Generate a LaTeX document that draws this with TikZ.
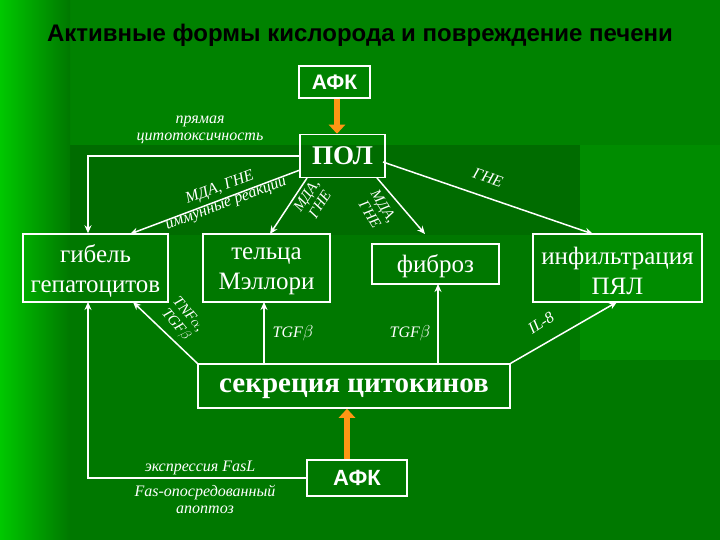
\documentclass[tikz,border=0pt]{standalone}
\usepackage{fontspec}
\setmainfont{Liberation Serif}
\newfontfamily\titlefont{Liberation Sans}
\usetikzlibrary{arrows.meta}
\definecolor{gA}{RGB}{0,200,0}
\definecolor{gB}{RGB}{0,120,0}
\definecolor{gC}{RGB}{0,130,0}
\definecolor{gD}{RGB}{0,108,0}
\definecolor{gE}{RGB}{0,140,0}
\definecolor{orA}{RGB}{255,150,20}
\begin{document}
\begin{tikzpicture}[x=1pt,y=-1pt,
  bx/.style={draw=white,line width=1.5pt,inner sep=0pt},
  bt/.style={text=white,align=center,inner sep=0pt,font=\fontsize{25}{30}\selectfont},
  ar/.style={draw=white,line width=1.5pt,-{Stealth[length=8pt,width=7pt]}},
  oar/.style={draw=orA,line width=6pt,-{Triangle[length=9pt,width=16pt]}},
  lab/.style={text=white,font=\itshape\fontsize{16}{17}\selectfont,align=center,inner sep=1pt},
  slab/.style={lab,font=\itshape\fontsize{15}{16}\selectfont}]
\useasboundingbox (0,0) rectangle (720,540);
\fill[gB] (0,0) rectangle (720,540);
\fill[gC] (0,0) rectangle (720,145);
\fill[gD] (70,145) rectangle (720,235);
\fill[gE] (580,145) rectangle (720,360);
\shade[left color=gA,right color=gB] (0,0) rectangle (70,540);
\node[font=\titlefont\bfseries\fontsize{24}{26}\selectfont] (title) at (360,35) {Активные формы кислорода и повреждение печени};
\node[bx,text=white,minimum width=71pt,minimum height=32pt,font=\titlefont\bfseries\fontsize{21}{22}\selectfont] (afk1) at (334.5,82) {АФК};
\node[bx,text=white,minimum width=85pt,minimum height=43pt,font=\bfseries\fontsize{27}{28}\selectfont] (pol) at (342.5,156) {ПОЛ};
\node[bx,minimum width=145pt,minimum height=68pt] (gib) at (95.5,268) {};
\node[bt] (gibt) at (95.5,271) {гибель\\гепатоцитов};
\node[bx,minimum width=127pt,minimum height=68pt] (tel) at (266.5,268) {};
\node[bt] (telt) at (266.5,271) {тельца\\Мэллори};
\node[bx,minimum width=127pt,minimum height=40pt] (fib) at (435.5,264) {};
\node[bt] (fibt) at (435.5,266) {фиброз};
\node[bx,minimum width=169pt,minimum height=68pt] (inf) at (617.5,268) {};
\node[bt] (inft) at (617.5,271) {инфильтрация\\ПЯЛ};
\node[bx,minimum width=312pt,minimum height=44pt] (sek) at (354,386) {};
\node[bt,font=\bfseries\fontsize{29}{30}\selectfont] (sekt) at (354,389) {секреция цитокинов};
\node[bx,text=white,minimum width=100pt,minimum height=36pt,font=\titlefont\bfseries\fontsize{22}{24}\selectfont] (afk2) at (357,478) {АФК};
\draw[oar] (afk1.south -| 337,0) -- (pol.north -| 337,0);
\draw[oar] (afk2.north -| 347,0) -- (sek.south -| 347,0);
\coordinate (c1) at (88,156);
\draw[ar] (pol.west |- 0,156) -- (c1) -- (gib.north -| 88,0);
\node[lab] (l1) at (200,130) {прямая\\цитотоксичность};
\draw[ar] (300,170) coordinate (p1) -- (130,234) coordinate (g1);
\node[lab,rotate=20.6] (l2) at (223,196) {МДА, ГНЕ\\иммунные реакции};
\draw[ar] (307,178) -- (270,234);
\node[slab,rotate=57] (l3) at (313,200) {МДА,\\ГНЕ};
\draw[ar] (377,178) -- (425,234);
\node[slab,rotate=-58] (l4) at (377,210) {МДА,\\ГНЕ};
\draw[ar] (383,162) -- (593,234);
\node[lab,rotate=-19] (l5) at (488,178) {ГНЕ};
\draw[ar] (sek.north west) -- (133,302);
\node[slab,rotate=-50] (l6) at (182,320) {TNF$\alpha$,\\TGF$\beta$};
\draw[ar] (264,365) -- (264,302);
\node[lab] (l7) at (293,333) {TGF$\beta$};
\draw[ar] (438,365) -- (438,284);
\node[lab] (l8) at (410,333) {TGF$\beta$};
\draw[ar] (sek.north east) -- (617,302);
\node[lab,rotate=33] (l9) at (541,323) {IL-8};
\coordinate (c2) at (88,478);
\draw[ar] (afk2.west) -- (c2) -- (88,302);
\node[lab] (l10) at (200,468) {экспрессия FasL};
\node[lab] (l11) at (205,499) {Fas-опосредованный\\апоптоз};
\end{tikzpicture}
\end{document}
